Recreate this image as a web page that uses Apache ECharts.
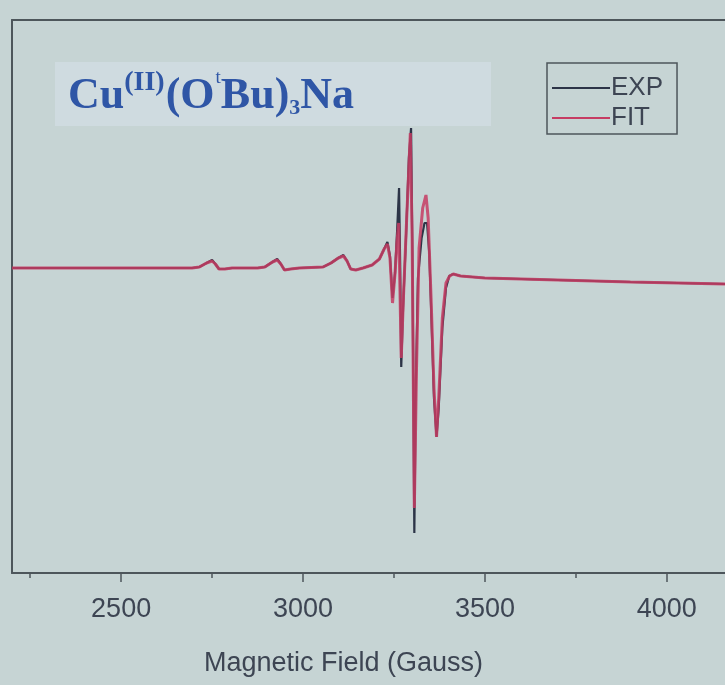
<!DOCTYPE html>
<html lang="en">
<head>
    <meta charset="UTF-8" />
    <title>Cu(II)(OtBu)3Na EPR</title>
    <script src="https://cdn.jsdelivr.net/npm/echarts@6/dist/echarts.min.js"></script>
    <style>
        html, body { margin: 0; padding: 0; background: #c6d4d4; }
        #main { width: 725px; height: 685px; }
    </style>
</head>
<body>
<div id="main"></div>
<script>
    // field (Gauss) and intensity (a.u.)
    var expField = [2200, 2400, 2600, 2695, 2715, 2735, 2750, 2759, 2769, 2785, 2805,
        2875, 2895, 2916, 2929, 2939, 2949, 2966, 2990,
        3055, 3077, 3097, 3111, 3121, 3131, 3145, 3165, 3190, 3210, 3223, 3232, 3239, 3246, 3253,
        3259, 3264, 3267, 3270, 3275, 3283, 3291, 3297, 3301, 3306, 3310, 3316, 3326, 3334, 3341,
        3347, 3353, 3360, 3367, 3373, 3383, 3393, 3402, 3413, 3433, 3500, 3700, 3900, 4160];
    var expIntensity = [0, 0, 0, 0, 0.01, 0.05, 0.08, 0.04, -0.01, -0.01, 0,
        0, 0.01, 0.06, 0.09, 0.04, -0.02, -0.01, 0,
        0.01, 0.05, 0.1, 0.13, 0.07, -0.01, -0.02, 0, 0.03, 0.09, 0.19, 0.26, 0.12, -0.3, -0.05,
        0.4, 0.8, 0.05, -0.99, -0.4, 0.3, 1.1, 1.4, 0, -2.65, -1.2, -0.1, 0.3, 0.45, 0.45,
        0.15, -0.5, -1.3, -1.69, -1.4, -0.6, -0.2, -0.08, -0.06, -0.08, -0.1, -0.12, -0.14, -0.16];

    var fitField = [2200, 2400, 2600, 2695, 2715, 2735, 2750, 2759, 2769, 2785, 2805,
        2875, 2895, 2916, 2929, 2939, 2949, 2966, 2990,
        3055, 3077, 3097, 3111, 3121, 3131, 3145, 3165, 3190, 3210, 3223, 3232, 3239, 3246, 3253,
        3258, 3263, 3270, 3276, 3285, 3295, 3300, 3306, 3312, 3319, 3329, 3338, 3344,
        3352, 3360, 3367, 3373, 3383, 3393, 3403, 3413, 3433, 3500, 3700, 3900, 4160];
    var fitIntensity = [0, 0, 0, 0, 0.01, 0.05, 0.07, 0.04, -0.01, -0.01, 0,
        0, 0.01, 0.06, 0.08, 0.04, -0.02, -0.01, 0,
        0.01, 0.05, 0.1, 0.12, 0.07, -0.01, -0.02, 0, 0.03, 0.09, 0.19, 0.24, 0.1, -0.35, -0.05,
        0.25, 0.45, -0.9, -0.3, 0.5, 1.35, 0.3, -2.4, -1.0, 0.2, 0.6, 0.73, 0.5,
        -0.3, -1.2, -1.69, -1.3, -0.5, -0.15, -0.08, -0.06, -0.08, -0.1, -0.12, -0.14, -0.16];

    var majorTicks = [2500, 3000, 3500, 4000];
    var minorTicks = [2250, 2750, 3250, 3750];
    var seriesNames = ['EXP', 'FIT'];

    function pairs(xs, ys) {
        var out = [];
        for (var i = 0; i < xs.length; i++) out.push([xs[i], ys[i]]);
        return out;
    }

    var frameColor = '#4d565b';
    var textColor = '#3d4553';
    var titleBlue = '#2f56a6';

    var myChart = echarts.init(document.getElementById('main'));

    var option = {
        backgroundColor: '#c6d4d4',
        animation: false,
        grid: { left: 12, right: 0, top: 20, bottom: 112, show: false },
        legend: {
            orient: 'vertical',
            left: 547, top: 63,
            data: seriesNames,
            icon: 'rect',
            itemWidth: 58, itemHeight: 2, itemGap: 4,
            padding: [12, 14, 3, 5],
            borderColor: frameColor, borderWidth: 1.5,
            textStyle: { fontFamily: 'Liberation Sans', fontSize: 26, lineHeight: 26, color: textColor, padding: [0, 0, 0, -4] }
        },
        graphic: [{
            type: 'rect',
            left: 55, top: 62,
            shape: { width: 436, height: 64 },
            style: { fill: '#cfdbe0' },
            z: 1
        }, {
            type: 'text',
            left: 68, top: 69,
            style: {
                text: '{a|Cu}{s|(II)}{a|(O}{t|t}{a|Bu)}{b|3}{a|Na}',
                rich: {
                    a: { fontFamily: 'Liberation Serif', fontWeight: 'bold', fontSize: 44, fill: titleBlue, verticalAlign: 'bottom', lineHeight: 50 },
                    s: { fontFamily: 'Liberation Serif', fontWeight: 'bold', fontSize: 28, fill: titleBlue, verticalAlign: 'top', lineHeight: 50, padding: [0, 1, 0, 0] },
                    t: { fontFamily: 'Liberation Serif', fontSize: 19, fill: titleBlue, verticalAlign: 'top', lineHeight: 44, padding: [0, 0, 0, 1] },
                    b: { fontFamily: 'Liberation Serif', fontWeight: 'bold', fontSize: 22, fill: titleBlue, verticalAlign: 'bottom', lineHeight: 42 }
                }
            },
            z: 2
        }],
        xAxis: [{
            type: 'value',
            min: 2200, max: 4160,
            position: 'bottom',
            name: 'Magnetic Field (Gauss)',
            nameLocation: 'middle',
            nameGap: 77,
            nameTextStyle: { fontFamily: 'Liberation Sans', fontSize: 27, color: textColor, padding: [0, 50, 0, 0] },
            axisLine: { show: true, onZero: false, lineStyle: { color: frameColor, width: 2 } },
            axisTick: { show: true, customValues: majorTicks, length: 9, lineStyle: { color: frameColor, width: 1.5 } },
            axisLabel: {
                customValues: majorTicks, margin: 23,
                fontFamily: 'Liberation Sans', fontSize: 27, color: textColor,
                formatter: function (v) { return String(v); }
            },
            splitLine: { show: false }
        }, {
            type: 'value',
            min: 2200, max: 4160,
            position: 'bottom',
            axisLine: { show: false, onZero: false },
            axisTick: { show: true, customValues: minorTicks, length: 5, lineStyle: { color: frameColor, width: 1.5 } },
            axisLabel: { show: false },
            splitLine: { show: false }
        }, {
            type: 'value',
            min: 2200, max: 4160,
            position: 'top',
            axisLine: { show: true, onZero: false, lineStyle: { color: frameColor, width: 2 } },
            axisTick: { show: false },
            axisLabel: { show: false },
            splitLine: { show: false }
        }],
        yAxis: {
            type: 'value',
            min: -3.05, max: 2.48,
            axisLine: { show: true, onZero: false, lineStyle: { color: frameColor, width: 2 } },
            axisTick: { show: false },
            axisLabel: { show: false },
            splitLine: { show: false }
        },
        series: [{
            name: 'EXP',
            type: 'line',
            data: pairs(expField, expIntensity),
            showSymbol: false,
            color: '#2c3447',
            lineStyle: { width: 2.2, color: '#2c3447' },
            z: 3
        }, {
            name: 'FIT',
            type: 'line',
            data: pairs(fitField, fitIntensity),
            showSymbol: false,
            color: '#c63c63',
            lineStyle: { width: 3, color: '#c63c63', opacity: 0.85 },
            z: 4
        }]
    };

    myChart.setOption(option);
</script>
</body>
</html>
